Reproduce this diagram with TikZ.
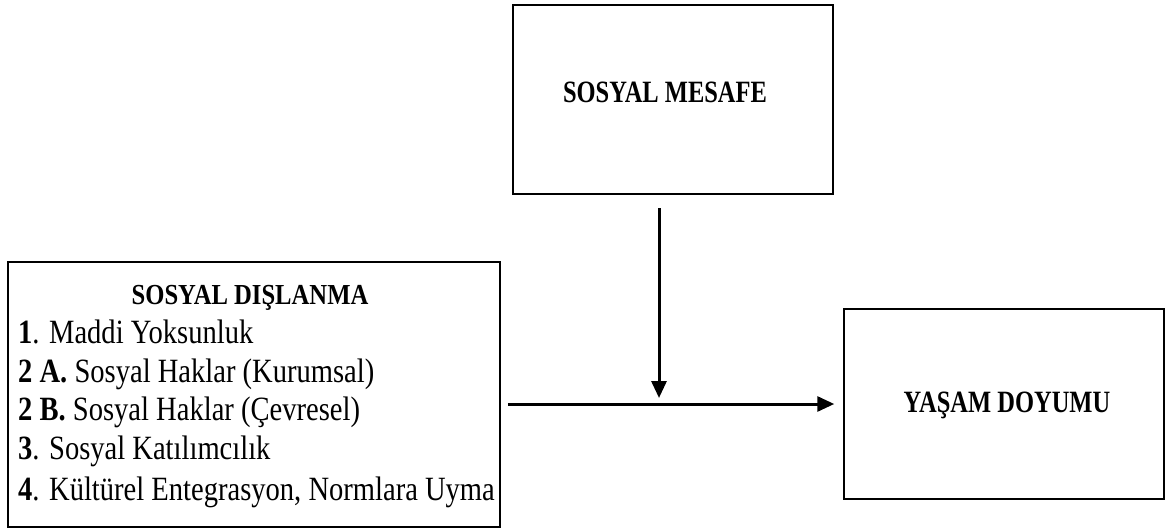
\documentclass[tikz,border=0pt]{standalone}
\usepackage{fontspec}
\setmainfont{Liberation Serif}
\newfontfamily\bodyfont[FakeStretch=0.84]{Liberation Serif}
\newfontfamily\headfont[FakeStretch=0.79]{Liberation Serif}
\newfontfamily\headfontb[FakeStretch=0.85]{Liberation Serif}
\usetikzlibrary{arrows.meta}
\begin{document}
\begin{tikzpicture}[x=1pt,y=-1pt,
  box/.style={draw, line width=1.5pt, rectangle, inner sep=0pt},
  conn/.style={line width=3pt, -{Triangle[length=17pt,width=15pt]}},
  head/.style={font=\headfont\bfseries\fontsize{31}{33}\selectfont, inner sep=0pt, anchor=base},
  item/.style={font=\bodyfont\fontsize{34}{38}\selectfont, inner sep=0pt, anchor=base west}]
\useasboundingbox (0,0) rectangle (1166,530);
\node[box, minimum width=320pt, minimum height=189pt] (sm) at (673,99.5) {};
\node[box, minimum width=492pt, minimum height=265pt] (sd) at (254,394.5) {};
\node[box, minimum width=320pt, minimum height=190pt] (yd) at (1004,404) {};
\node[head] (smt) at (665,102) {SOSYAL MESAFE};
\node[head] (ydt) at (1007,412) {YAŞAM DOYUMU};
\node[head, font=\headfontb\bfseries\fontsize{29}{31}\selectfont] (sdt) at (250,304) {SOSYAL DIŞLANMA};
\node[item] (i1) at (18,343) {\textbf{1}. Maddi Yoksunluk};
\node[item] (i2) at (18,382) {\textbf{2 A.} Sosyal Haklar (Kurumsal)};
\node[item] (i3) at (18,420) {\textbf{2 B.} Sosyal Haklar (Çevresel)};
\node[item] (i4) at (18,459) {\textbf{3}. Sosyal Katılımcılık};
\node[item] (i5) at (18,500) {\textbf{4}. Kültürel Entegrasyon, Normlara Uyma};
\coordinate (vt) at (659,208);
\coordinate (vb) at (659,398);
\draw[conn] (vt) -- (vb);
\draw[conn] ([xshift=7pt]sd.east |- yd.west) -- ([xshift=-9pt]yd.west);
\end{tikzpicture}
\end{document}
